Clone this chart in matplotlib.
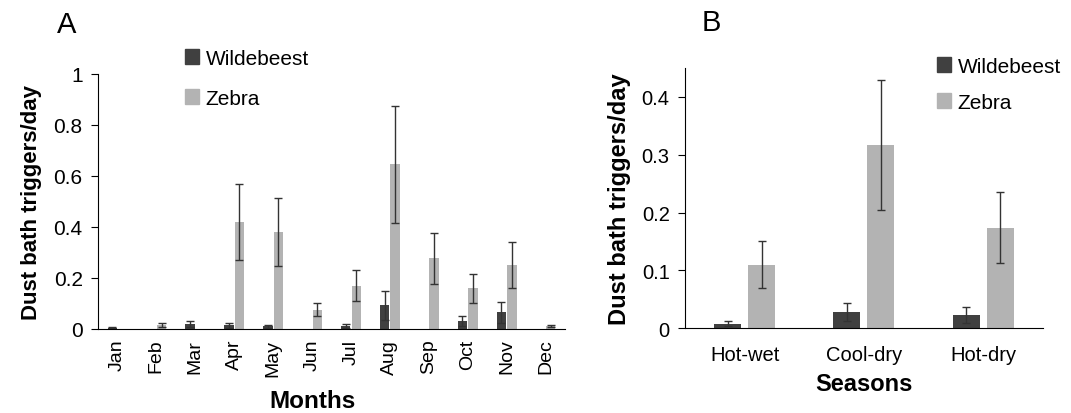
import numpy as np
import matplotlib.pyplot as plt
from matplotlib.patches import Patch

plt.rcParams['font.family'] = ['Liberation Sans', 'DejaVu Sans']

# panel A - monthly
months = ['Jan', 'Feb', 'Mar', 'Apr', 'May', 'Jun', 'Jul', 'Aug', 'Sep', 'Oct', 'Nov', 'Dec']
wild_m = [0.005, 0.0, 0.02, 0.015, 0.01, 0.0, 0.01, 0.092, 0.0, 0.03, 0.065, 0.0]
wild_m_err = [0.002, 0.0, 0.012, 0.01, 0.007, 0.0, 0.008, 0.056, 0.0, 0.02, 0.04, 0.0]
zebra_m = [0.0, 0.015, 0.0, 0.42, 0.38, 0.075, 0.17, 0.645, 0.278, 0.16, 0.251, 0.012]
zebra_m_err = [0.0, 0.008, 0.0, 0.15, 0.135, 0.025, 0.06, 0.23, 0.1, 0.057, 0.09, 0.004]

# panel B - seasons
seasons = ['Hot-wet', 'Cool-dry', 'Hot-dry']
wild_s = [0.008, 0.028, 0.023]
wild_s_err = [0.004, 0.015, 0.013]
zebra_s = [0.11, 0.317, 0.174]
zebra_s_err = [0.04, 0.112, 0.062]

dark = '#404040'
light = '#b3b3b3'
ekw = dict(fmt='none', ecolor='#333333', elinewidth=1, capsize=3.2, capthick=1)


def bars_with_err(ax, xpos, vals, errs, width, color):
    ax.bar(xpos, vals, width, color=color)
    xpos = np.asarray(xpos)
    vals = np.asarray(vals)
    errs = np.asarray(errs)
    keep = errs > 0  # no error bar where there is no bar
    ax.errorbar(xpos[keep], vals[keep], yerr=errs[keep], **ekw)


fig = plt.figure(figsize=(10.71, 4.14), dpi=100)

# ---- A ----
axA = fig.add_axes([0.0915, 0.203, 0.436, 0.616])
x = np.arange(len(months))
w = 0.24
bars_with_err(axA, x - 0.135, wild_m, wild_m_err, w, dark)
bars_with_err(axA, x + 0.135, zebra_m, zebra_m_err, w, light)
axA.set_xlim(-0.5, 11.5)
axA.set_ylim(0, 1)
axA.set_yticks([0, 0.2, 0.4, 0.6, 0.8, 1])
axA.set_yticklabels(['0', '0.2', '0.4', '0.6', '0.8', '1'], fontsize=15)
axA.set_xticks(x)
axA.set_xticklabels(months, rotation=90, fontsize=14)
axA.tick_params(axis='x', length=0, pad=7)
axA.tick_params(axis='y', length=5, pad=6)
axA.set_ylabel('Dust bath triggers/day', fontsize=16, fontweight='bold', labelpad=8)
axA.set_xlabel('Months', fontsize=17.5, fontweight='bold')
axA.xaxis.set_label_coords(0.46, -0.235)
for s in ['top', 'right']:
    axA.spines[s].set_visible(False)
fig.text(0.0625, 0.94, 'A', fontsize=21, ha='center', va='center')

handles = [Patch(color=dark, label='Wildebeest'), Patch(color=light, label='Zebra')]
axA.legend(handles=handles, loc='upper left', bbox_to_anchor=(0.155, 0.925),
           bbox_transform=fig.transFigure, frameon=False, fontsize=15,
           handlelength=0.7, handleheight=0.7, handletextpad=0.3, labelspacing=1.0)

# ---- B ----
axB = fig.add_axes([0.6396, 0.2046, 0.334, 0.629])
xs = np.arange(len(seasons))
bars_with_err(axB, xs - 0.143, wild_s, wild_s_err, 0.227, dark)
bars_with_err(axB, xs + 0.143, zebra_s, zebra_s_err, 0.227, light)
axB.set_xlim(-0.5, 2.5)
axB.set_ylim(0, 0.45)
axB.set_yticks([0, 0.1, 0.2, 0.3, 0.4])
axB.set_yticklabels(['0', '0.1', '0.2', '0.3', '0.4'], fontsize=14.5)
axB.set_xticks(xs)
axB.set_xticklabels(seasons, fontsize=14.5)
axB.tick_params(axis='x', length=0, pad=12)
axB.tick_params(axis='y', length=5, pad=6)
axB.set_ylabel('Dust bath triggers/day', fontsize=17, fontweight='bold', labelpad=8)
axB.set_xlabel('Seasons', fontsize=17, fontweight='bold', labelpad=6)
for s in ['top', 'right']:
    axB.spines[s].set_visible(False)
fig.text(0.664, 0.945, 'B', fontsize=21, ha='center', va='center')

axB.legend(handles=handles, loc='upper left', bbox_to_anchor=(0.857, 0.905),
           bbox_transform=fig.transFigure, frameon=False, fontsize=15,
           handlelength=0.7, handleheight=0.7, handletextpad=0.3, labelspacing=0.8)

plt.savefig('out.png', dpi=100)
